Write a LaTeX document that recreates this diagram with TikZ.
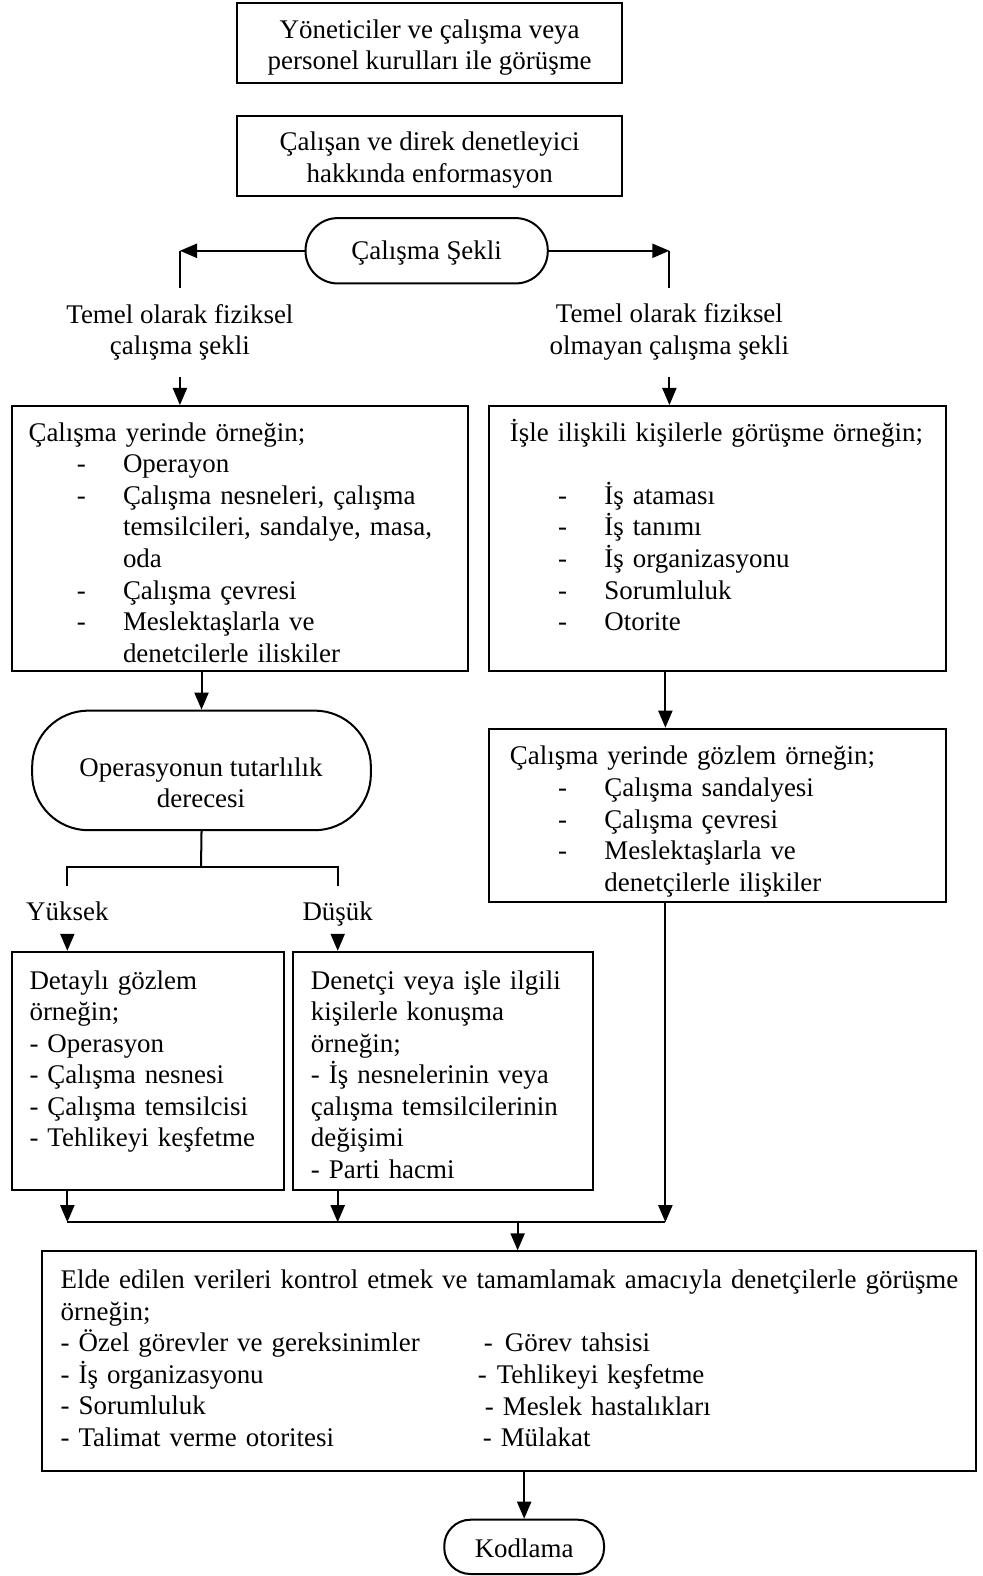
\documentclass[tikz,border=0pt]{standalone}
\usepackage{fontspec}
\setmainfont{Liberation Serif}
\usetikzlibrary{arrows.meta,positioning,calc,fit}

\newcommand{\itm}{\hspace*{24pt}\makebox[23pt][l]{-}}
\newcommand{\ind}{\hspace*{47pt}}

\begin{document}
\begin{tikzpicture}[x=0.5pt,y=-0.5pt,
    font=\fontsize{13.4}{15.7}\selectfont,
    box/.style={draw,line width=1pt,inner sep=0pt},
    pill/.style={box,rounded corners=#1},
    txt/.style={inner sep=0pt,anchor=base west,text width=#1,align=left},
    txt/.default=215pt,
    mid/.style={inner sep=0pt,align=center},
    lab/.style={inner xsep=0pt,inner ysep=8pt,align=center},
    ln/.style={line width=1pt},
    arr/.style={ln,-{Triangle[length=8.5pt,width=7pt]}}]
        \useasboundingbox (0,0) rectangle (978,1568);

        % Kopf
        \node[box,fit={(236,3) (619,83)}] (yon) {};
        \node[mid,yshift=-2.2pt] at (yon) {Yöneticiler ve çalışma veya\\personel kurulları ile görüşme};
        \node[box,fit={(236,115) (619,195)}] (bilgi) {};
        \node[mid,yshift=-2.2pt] at (bilgi) {Çalışan ve direk denetleyici\\hakkında enformasyon};

        % Calisma Sekli
        \node[pill=16pt,fit={(304,217) (545,282)}] (sekil) {};
        \node[mid,yshift=-1pt] at (sekil) {Çalışma Şekli};
        \node[lab] (fizlab) at (179,330.5) {Temel olarak fiziksel\\çalışma şekli};
        \node[lab] (nfizlab) at (666,330.5) {Temel olarak fiziksel\\olmayan çalışma şekli};
        \draw[arr] (sekil.west) -- (sekil.west -| fizlab);
        \draw[ln] (sekil.west -| fizlab) -- (fizlab.north);
        \draw[arr] (sekil.east) -- (sekil.east -| nfizlab);
        \draw[ln] (sekil.east -| nfizlab) -- (nfizlab.north);

        % fiziksel
        \node[box,fit={(12,404) (466,668)}] (fiz) {};
        \node[txt] at (28,439) {Çalışma yerinde örneğin;\\
          \itm Operayon\\
          \itm Çalışma nesneleri, çalışma\\
          \ind temsilcileri, sandalye, masa,\\
          \ind oda\\
          \itm Çalışma çevresi\\
          \itm Meslektaşlarla ve\\
          \ind denetcilerle iliskiler};
        \draw[arr] (fizlab.south) -- (fizlab.south |- fiz.north);

        % fiziksel olmayan
        \node[box,fit={(487,404) (941,668)}] (nfiz) {};
        \node[txt] at (507,439) {İşle ilişkili kişilerle görüşme örneğin;\\
          \mbox{}\\
          \itm İş ataması\\
          \itm İş tanımı\\
          \itm İş organizasyonu\\
          \itm Sorumluluk\\
          \itm Otorite};
        \draw[arr] (nfizlab.south) -- (nfizlab.south |- nfiz.north);

        % Tutarlilik
        \node[pill=28pt,fit={(32,707) (369,826)}] (tutar) {};
        \node[mid] at (200,779) {Operasyonun tutarlılık\\derecesi};
        \draw[arr] (fiz.south -| tutar) -- (tutar.north);

        % Gozlem
        \coordinate (sag) at (662,1216);
        \node[box,fit={(487,725) (941,897)}] (gozlem) {};
        \node[txt] at (507,761) {Çalışma yerinde gözlem örneğin;\\
          \itm Çalışma sandalyesi\\
          \itm Çalışma çevresi\\
          \itm Meslektaşlarla ve\\
          \ind denetçilerle ilişkiler};
        \draw[arr] (nfiz.south -| sag) -- (gozlem.north -| sag);

        % Yuksek / Dusuk
        \coordinate (ayr) at (200,863);
        \node[lab,anchor=base] (yuk) at (67,916) {Yüksek};
        \node[lab,anchor=base] (dus) at (336,916) {Düşük};
        \draw[ln] (tutar.south) -- (ayr);
        \draw[ln] (yuk.north) |- (ayr) -| (dus.north);

        \node[box,fit={(12,947) (283,1184)}] (detay) {};
        \node[txt=240pt] at (29,984) {Detaylı gözlem\\örneğin;\\- Operasyon\\- Çalışma nesnesi\\- Çalışma temsilcisi\\- Tehlikeyi keşfetme};
        \node[box,fit={(292,947) (590,1184)}] (konus) {};
        \node[txt=260pt] at (309,984) {Denetçi veya işle ilgili\\kişilerle konuşma\\örneğin;\\- İş nesnelerinin veya\\çalışma temsilcilerinin\\değişimi\\- Parti hacmi};
        \draw[arr] (yuk.south) -- (yuk.south |- detay.north);
        \draw[arr] (dus.south) -- (dus.south |- konus.north);

        % Birlestirme
        \draw[arr] (detay.south -| yuk) -- (yuk |- sag);
        \draw[arr] (konus.south -| dus) -- (dus |- sag);
        \draw[arr] (gozlem.south -| sag) -- (sag);
        \draw[ln] (yuk |- sag) -- (sag);
        \coordinate (bir) at (515,1216);

        % Denetcilerle gorusme
        \node[box,fit={(42,1245) (971,1464)}] (elde) {};
        \draw[arr] (bir) -- (bir |- elde.north);
        \node[txt=470pt] at (60,1282) {Elde edilen verileri kontrol etmek ve tamamlamak amacıyla denetçilerle görüşme\\örneğin;\\- Özel görevler ve gereksinimler\\- İş organizasyonu\\- Sorumluluk\\- Talimat verme otoritesi};
        \node[txt=150pt] at (475,1345) {\hspace*{3pt}-\hspace*{6pt}Görev tahsisi\\
          -\hspace*{5pt}Tehlikeyi keşfetme\\
          \hspace*{3.5pt}- Meslek hastalıkları\\
          \hspace*{2.5pt}- Mülakat};

        % Kodlama
        \node[pill=13pt,fit={(442,1512) (601,1566)}] (kod) {};
        \node[mid,yshift=-0.5pt] at (kod) {Kodlama};
        \draw[arr] (elde.south -| kod) -- (kod.north);
      \end{tikzpicture}
\end{document}
